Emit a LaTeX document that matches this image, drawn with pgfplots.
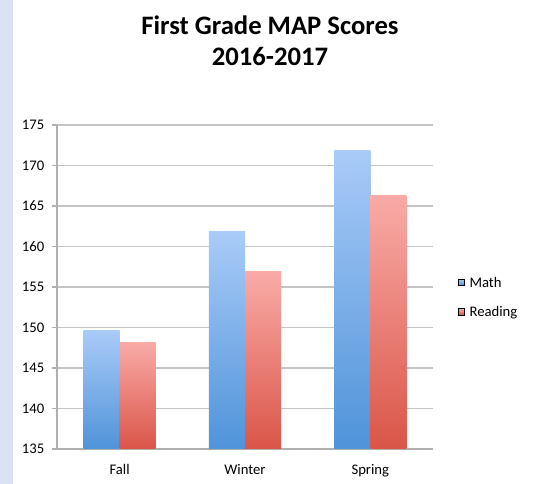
\documentclass[border=0pt]{standalone}
\usepackage{fontspec}
\setmainfont{Carlito}
\usepackage{pgfplots}
\pgfplotsset{compat=1.18}
\definecolor{strip}{HTML}{DAE3F3}
\definecolor{gridc}{HTML}{C4C4C4}
\definecolor{axisc}{HTML}{B0B0B0}
\definecolor{mathtop}{HTML}{A9CBF8}
\definecolor{mathbot}{HTML}{4F93D9}
\definecolor{readtop}{HTML}{F9ABA7}
\definecolor{readbot}{HTML}{DA5548}
\begin{document}
\begin{tikzpicture}
\useasboundingbox (-42.75pt,-26.25pt) rectangle (358.5pt,336.75pt);
\fill[white] (-42.75pt,-26.25pt) rectangle (358.5pt,336.75pt);
\fill[strip] (-42.75pt,-26.25pt) rectangle (-33pt,336.75pt);
\begin{axis}[
  at={(0pt,0pt)}, anchor=south west,
  scale only axis, width=282pt, height=243pt,
  ybar, bar width=27pt,
  xmin=-0.5, xmax=2.5, ymin=135, ymax=175,
  xtick={0,1,2}, xticklabels={Fall,Winter,Spring},
  extra x ticks={0.5,1.5,2.5},
  extra x tick labels={},
  extra x tick style={major tick length=4pt, tick style={axisc, line width=0.9pt}, grid=none},
  ytick={135,140,...,175},
  axis x line*=bottom, axis y line*=left,
  axis line style={axisc, line width=0.9pt},
  x axis line style={-}, y axis line style={-},
  xtick style={draw=none},
  ytick style={axisc, line width=0.9pt},
  tick align=outside, major tick length=4pt,
  ymajorgrids, grid style={gridc, line width=1.1pt},
  tick label style={font=\fontsize{11}{13}\selectfont, text=black},
  /pgf/number format/assume math mode=true,
  yticklabel style={xshift=-2pt},
  xticklabel style={yshift=-4pt},
  title={First Grade MAP Scores\\2016-2017},
  title style={at={(axis description cs:0.5665,1.234)}, anchor=center, align=center,
     font=\fontsize{20}{23.25}\selectfont\bfseries},
  legend style={at={(axis description cs:1.066,0.466)}, anchor=west, draw=none, fill=none,
     font=\fontsize{11}{13}\selectfont, row sep=9pt, inner sep=0pt},
  legend cell align=left,
  legend image code/.code={\fill[#1] (0pt,-1.5pt) rectangle (4.6pt,3.1pt); \path (6.2pt,0pt);},
  clip=false,
]
% Math
\addplot[ybar, bar shift=-13.5pt, draw=none, top color=mathtop, bottom color=mathbot, forget plot] coordinates {(0,149.6)};
\addplot[ybar, bar shift=-13.5pt, draw=none, top color=mathtop, bottom color=mathbot, forget plot] coordinates {(1,161.8)};
\addplot[ybar, bar shift=-13.5pt, draw=none, top color=mathtop, bottom color=mathbot, forget plot] coordinates {(2,171.9)};
% Reading
\addplot[ybar, bar shift=13.5pt, draw=none, top color=readtop, bottom color=readbot, forget plot] coordinates {(0,148.2)};
\addplot[ybar, bar shift=13.5pt, draw=none, top color=readtop, bottom color=readbot, forget plot] coordinates {(1,156.9)};
\addplot[ybar, bar shift=13.5pt, draw=none, top color=readtop, bottom color=readbot, forget plot] coordinates {(2,166.3)};
\addlegendimage{top color=mathtop, bottom color=mathbot}
\addlegendentry{Math}
\addlegendimage{top color=readtop, bottom color=readbot}
\addlegendentry{Reading}
\end{axis}
\end{tikzpicture}
\end{document}
